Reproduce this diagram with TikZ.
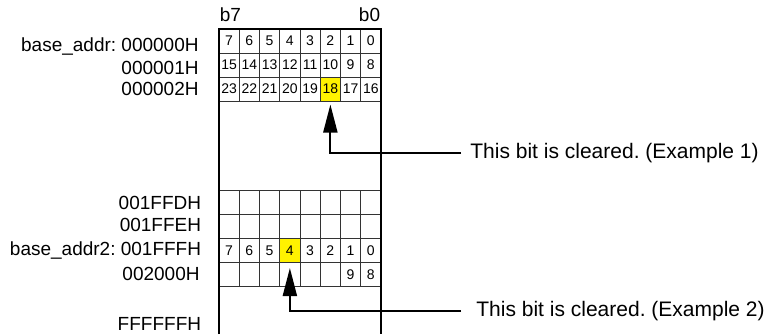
\documentclass[tikz,border=0pt]{standalone}
\usepackage{fontspec}
\setmainfont{Liberation Sans}
\usetikzlibrary{arrows.meta}
\frenchspacing

\tikzset{
  cell/.style={draw=black!80, line width=0.5pt, minimum width=10.125pt,
    minimum height=12pt, inner sep=0pt, font=\fontsize{7}{8}\selectfont},
  addr/.style={anchor=base east, inner sep=0pt, font=\fontsize{9.5}{11}\selectfont},
  note/.style={anchor=base west, inner xsep=4.5pt, inner ysep=0pt,
    font=\fontsize{10.5}{12}\selectfont},
  frame/.style={line width=1pt},
  pointer/.style={-{Triangle[length=14pt,width=7pt]}, line width=1pt},
}

\begin{document}
\begin{tikzpicture}[x=0.5pt, y=-0.5pt]
  \useasboundingbox (0,0) rectangle (767,334);
  % first three bytes
  \foreach \r in {0,1,2} {
    \foreach \c in {0,...,7} {
      \pgfmathtruncatemacro{\n}{8*\r+7-\c}
      \ifnum\n=18 \def\cellcol{yellow}\else\def\cellcol{white}\fi
      \node[cell, fill=\cellcol] (a\r\c) at ({229.125+20.25*\c},{41+24*\r}) {\n};
    }
  }
  % bytes round base_addr2
  \foreach \r in {0,1} {
    \foreach \c in {0,...,7} {
      \node[cell] (b\r\c) at ({229.125+20.25*\c},{202.5+24*\r}) {};
    }
  }
  \foreach \c in {0,...,7} {
    \pgfmathtruncatemacro{\n}{7-\c}
    \ifnum\n=4 \def\cellcol{yellow}\else\def\cellcol{white}\fi
    \node[cell, fill=\cellcol] (b2\c) at ({229.125+20.25*\c},250.5) {\n};
    \pgfmathtruncatemacro{\m}{15-\c}
    \node[cell] (b3\c) at ({229.125+20.25*\c},274.5) {\ifnum\c>5 \m\fi};
  }
  \draw[frame] (219,334) -- (219,29) -- (381,29) -- (381,334);
  \node[anchor=base west, inner sep=0pt, font=\fontsize{9.5}{11}\selectfont] (msb) at (219.5,21.7) {b7};
  \node[anchor=base east, inner sep=0pt, font=\fontsize{9.5}{11}\selectfont] (lsb) at (380.5,21.7) {b0};
  % addresses
  \node[addr] (l0) at (199,51.7) {base\_addr: 000000H};
  \node[addr] (l1) at (199,74) {000001H};
  \node[addr] (l2) at (199,95) {000002H};
  \node[addr] (l3) at (201.5,209.3) {001FFDH};
  \node[addr] (l4) at (201.5,231.7) {001FFEH};
  \node[addr] (l5) at (201.5,255.7) {base\_addr2: 001FFFH};
  \node[addr] (l6) at (200,280) {002000H};
  \node[addr] (l7) at (201.5,330) {FFFFFFH};
  % notes
  \node[note] (ex1) at (461,158.3) {This bit is cleared. (Example 1)};
  \node[note] (ex2) at (467,316.7) {This bit is cleared. (Example 2)};
  \draw[pointer, shorten >=1.5pt] (ex1.west) -| (a25.south);
  \draw[pointer, shorten <=3pt, shorten >=2.5pt] (ex2.west) -| (b23.south);
\end{tikzpicture}
\end{document}
